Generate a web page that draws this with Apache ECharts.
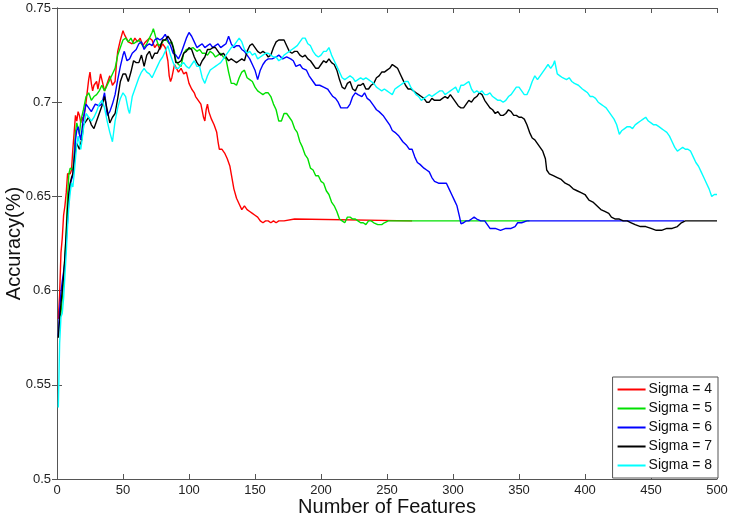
<!DOCTYPE html>
<html>
<head>
<meta charset="utf-8">
<script src="https://cdn.jsdelivr.net/npm/echarts@6/dist/echarts.min.js"></script>
<style>
html,body{margin:0;padding:0;background:#fff;}
#c{width:733px;height:519px;}
</style>
</head>
<body>
<div id="c"></div>
<script>
const seriesNames = ['Sigma = 4','Sigma = 5','Sigma = 6','Sigma = 7','Sigma = 8'];
const xTicks = [0,50,100,150,200,250,300,350,400,450,500];
const yTicks = [0.5,0.55,0.6,0.65,0.7,0.75];

const sigma4 = [[1,0.585],[2,0.598],[3,0.620],[4,0.628],[5,0.640],[6,0.645],[7,0.652],[8,0.662],[10,0.662],[11,0.664],[12,0.675],[13,0.684],[14,0.693],[15,0.690],[16,0.695],[17,0.693],[18,0.689],[19,0.692],[20,0.690],[22,0.700],[23,0.706],[24,0.712],[25,0.716],[26,0.710],[27,0.706],[28,0.709],[30,0.711],[31,0.707],[33,0.715],[34,0.712],[36,0.706],[38,0.710],[40,0.714],[42,0.709],[44,0.711],[45,0.720],[46,0.727],[48,0.733],[50,0.738],[51,0.736],[52,0.737],[54,0.732],[55,0.733],[57,0.731],[59,0.734],[61,0.732],[63,0.734],[65,0.730],[67,0.732],[70,0.734],[72,0.733],[74,0.729],[76,0.731],[78,0.728],[80,0.731],[82,0.729],[84,0.722],[85,0.714],[86,0.711],[87,0.713],[89,0.720],[90,0.719],[92,0.716],[94,0.718],[96,0.715],[98,0.716],[100,0.710],[102,0.707],[104,0.705],[105,0.703],[107,0.701],[109,0.699],[110,0.698],[111,0.692],[112,0.690],[113,0.696],[114,0.699],[115,0.695],[117,0.691],[119,0.688],[121,0.684],[122,0.679],[123,0.675],[125,0.675],[127,0.673],[129,0.670],[131,0.666],[132,0.662],[133,0.658],[134,0.654],[136,0.649],[138,0.646],[140,0.643],[142,0.645],[144,0.643],[146,0.642],[148,0.641],[150,0.640],[152,0.639],[154,0.637],[156,0.636],[158,0.637],[160,0.637],[162,0.636],[164,0.637],[166,0.636],[168,0.637],[172,0.637],[173,0.638],[180,0.638],[181,0.637],[269,0.637]];

const sigma5 = [[2,0.585],[3,0.588],[4,0.596],[5,0.606],[6,0.618],[7,0.632],[8,0.650],[9,0.662],[10,0.665],[11,0.666],[12,0.664],[13,0.672],[14,0.684],[15,0.689],[16,0.686],[17,0.683],[18,0.690],[20,0.696],[22,0.703],[24,0.705],[26,0.701],[28,0.703],[30,0.704],[32,0.706],[34,0.709],[36,0.706],[38,0.709],[40,0.712],[42,0.715],[44,0.718],[46,0.725],[48,0.729],[50,0.733],[52,0.734],[54,0.732],[56,0.734],[58,0.731],[60,0.732],[62,0.733],[64,0.731],[66,0.729],[68,0.731],[70,0.734],[72,0.737],[73,0.739],[75,0.734],[77,0.730],[79,0.731],[81,0.733],[83,0.733],[85,0.731],[87,0.732],[89,0.727],[90,0.722],[92,0.720],[94,0.719],[96,0.726],[98,0.728],[100,0.728],[103,0.729],[106,0.727],[108,0.728],[110,0.726],[112,0.726],[114,0.725],[116,0.727],[118,0.726],[120,0.724],[122,0.725],[124,0.726],[126,0.724],[128,0.723],[130,0.716],[132,0.710],[134,0.710],[136,0.709],[138,0.713],[140,0.716],[142,0.717],[144,0.713],[146,0.712],[148,0.711],[150,0.708],[152,0.706],[154,0.705],[156,0.704],[158,0.705],[160,0.705],[162,0.703],[164,0.699],[166,0.696],[168,0.690],[170,0.690],[172,0.694],[174,0.694],[176,0.692],[178,0.690],[180,0.686],[182,0.684],[184,0.679],[186,0.676],[188,0.672],[190,0.670],[192,0.665],[194,0.664],[196,0.661],[198,0.661],[200,0.658],[202,0.657],[204,0.653],[206,0.651],[208,0.647],[210,0.645],[212,0.642],[214,0.638],[216,0.637],[218,0.636],[220,0.639],[222,0.639],[224,0.638],[226,0.638],[228,0.637],[230,0.636],[232,0.636],[234,0.635],[236,0.637],[238,0.637],[240,0.636],[243,0.635],[246,0.635],[248,0.636],[251,0.637],[358,0.637]];

const sigma6 = [[1,0.576],[2,0.590],[3,0.599],[4,0.605],[5,0.610],[6,0.615],[7,0.626],[8,0.637],[9,0.648],[10,0.656],[11,0.659],[12,0.661],[13,0.670],[14,0.680],[15,0.685],[16,0.687],[17,0.683],[18,0.680],[19,0.686],[20,0.692],[22,0.699],[24,0.697],[26,0.695],[27,0.695],[29,0.699],[30,0.700],[32,0.698],[34,0.699],[36,0.705],[37,0.700],[38,0.693],[40,0.695],[42,0.699],[44,0.704],[46,0.712],[48,0.719],[50,0.725],[51,0.727],[53,0.722],[55,0.723],[57,0.726],[60,0.728],[62,0.731],[64,0.732],[66,0.728],[68,0.730],[70,0.731],[72,0.730],[74,0.733],[76,0.734],[78,0.733],[80,0.734],[82,0.736],[84,0.733],[86,0.730],[88,0.726],[90,0.725],[92,0.723],[94,0.726],[96,0.730],[98,0.734],[100,0.737],[102,0.735],[104,0.732],[106,0.729],[108,0.730],[110,0.731],[112,0.729],[114,0.730],[116,0.731],[118,0.729],[120,0.730],[122,0.731],[124,0.729],[126,0.730],[128,0.731],[130,0.735],[132,0.731],[134,0.729],[136,0.730],[138,0.730],[140,0.728],[142,0.727],[144,0.725],[146,0.723],[148,0.720],[150,0.717],[152,0.712],[154,0.717],[156,0.720],[158,0.722],[160,0.723],[163,0.723],[166,0.724],[168,0.725],[171,0.723],[174,0.724],[177,0.723],[179,0.722],[181,0.719],[184,0.720],[186,0.718],[189,0.717],[191,0.714],[194,0.711],[196,0.709],[199,0.709],[202,0.708],[205,0.707],[207,0.705],[209,0.703],[211,0.702],[213,0.700],[215,0.697],[218,0.697],[220,0.697],[222,0.699],[224,0.703],[226,0.705],[228,0.704],[231,0.703],[233,0.705],[235,0.702],[237,0.701],[240,0.698],[242,0.696],[244,0.695],[247,0.693],[250,0.690],[252,0.688],[254,0.685],[256,0.684],[259,0.682],[262,0.679],[265,0.677],[267,0.675],[269,0.675],[271,0.671],[273,0.668],[275,0.667],[278,0.665],[280,0.664],[282,0.663],[284,0.660],[286,0.658],[289,0.657],[292,0.657],[295,0.657],[297,0.654],[299,0.651],[301,0.648],[303,0.645],[305,0.639],[306,0.6355],[308,0.636],[310,0.637],[312,0.637],[314,0.638],[316,0.639],[318,0.638],[321,0.637],[324,0.637],[326,0.635],[328,0.633],[332,0.633],[336,0.632],[340,0.633],[344,0.633],[347,0.634],[349,0.636],[352,0.636],[356,0.637],[475,0.637]];

const sigma7 = [[1,0.575],[2,0.585],[3,0.593],[4,0.600],[5,0.608],[6,0.618],[7,0.630],[8,0.643],[9,0.652],[10,0.657],[11,0.660],[12,0.662],[13,0.668],[14,0.674],[15,0.678],[16,0.677],[17,0.675],[18,0.676],[19,0.681],[20,0.688],[22,0.690],[24,0.692],[26,0.688],[28,0.686],[30,0.690],[32,0.694],[34,0.698],[36,0.703],[38,0.696],[40,0.689],[42,0.692],[44,0.694],[46,0.702],[48,0.711],[50,0.715],[52,0.715],[54,0.711],[56,0.716],[58,0.722],[60,0.721],[62,0.721],[64,0.725],[66,0.719],[68,0.725],[70,0.727],[72,0.723],[74,0.726],[76,0.726],[78,0.729],[80,0.733],[82,0.733],[84,0.735],[86,0.733],[88,0.729],[90,0.721],[92,0.721],[94,0.722],[96,0.726],[98,0.727],[100,0.729],[102,0.728],[104,0.724],[106,0.721],[108,0.719],[110,0.722],[112,0.724],[114,0.728],[116,0.728],[118,0.729],[120,0.729],[122,0.727],[124,0.725],[126,0.726],[128,0.724],[130,0.722],[132,0.723],[134,0.722],[136,0.721],[138,0.722],[140,0.723],[142,0.722],[144,0.727],[146,0.730],[148,0.731],[150,0.729],[152,0.727],[154,0.726],[156,0.727],[158,0.726],[160,0.724],[162,0.725],[164,0.729],[166,0.732],[168,0.733],[170,0.733],[172,0.733],[174,0.730],[176,0.727],[178,0.726],[180,0.727],[182,0.727],[184,0.725],[186,0.724],[188,0.725],[190,0.723],[192,0.722],[194,0.720],[196,0.718],[198,0.718],[200,0.720],[202,0.722],[204,0.721],[206,0.723],[208,0.721],[210,0.720],[212,0.717],[214,0.712],[216,0.708],[218,0.707],[220,0.710],[222,0.711],[224,0.707],[226,0.706],[228,0.709],[230,0.709],[232,0.710],[234,0.707],[236,0.707],[238,0.709],[240,0.710],[242,0.713],[244,0.714],[246,0.716],[248,0.716],[250,0.717],[252,0.718],[254,0.720],[256,0.719],[258,0.718],[260,0.715],[262,0.712],[264,0.709],[266,0.707],[268,0.707],[270,0.706],[272,0.705],[274,0.704],[276,0.703],[278,0.702],[280,0.700],[282,0.700],[284,0.702],[286,0.701],[288,0.701],[290,0.701],[292,0.702],[294,0.703],[296,0.702],[298,0.704],[300,0.702],[302,0.700],[304,0.698],[306,0.697],[308,0.697],[310,0.699],[312,0.701],[314,0.700],[316,0.702],[318,0.703],[320,0.705],[322,0.704],[324,0.701],[326,0.699],[328,0.697],[330,0.696],[332,0.694],[334,0.695],[336,0.693],[338,0.693],[340,0.694],[342,0.696],[344,0.695],[346,0.693],[348,0.693],[350,0.692],[352,0.692],[354,0.691],[356,0.688],[358,0.684],[360,0.681],[362,0.680],[364,0.678],[366,0.676],[368,0.674],[370,0.670],[371,0.664],[373,0.662],[376,0.661],[379,0.660],[382,0.659],[385,0.657],[388,0.656],[391,0.654],[394,0.653],[397,0.652],[400,0.651],[403,0.648],[406,0.647],[409,0.645],[412,0.643],[415,0.642],[418,0.641],[420,0.639],[423,0.638],[426,0.638],[429,0.637],[432,0.637],[435,0.636],[438,0.635],[442,0.634],[446,0.634],[450,0.633],[454,0.632],[458,0.632],[462,0.633],[466,0.633],[470,0.634],[473,0.636],[476,0.637],[500,0.637]];

const sigma8 = [[1,0.538],[2,0.572],[3,0.586],[4,0.588],[5,0.596],[6,0.608],[7,0.620],[8,0.634],[9,0.645],[10,0.652],[11,0.657],[12,0.655],[13,0.662],[14,0.670],[15,0.678],[16,0.682],[17,0.678],[18,0.675],[19,0.680],[20,0.686],[22,0.694],[24,0.692],[26,0.690],[28,0.692],[30,0.695],[32,0.699],[34,0.701],[36,0.697],[38,0.690],[40,0.684],[42,0.679],[44,0.690],[46,0.697],[48,0.702],[50,0.705],[52,0.703],[54,0.696],[55,0.694],[57,0.703],[60,0.709],[62,0.713],[64,0.716],[66,0.718],[68,0.716],[70,0.715],[72,0.713],[74,0.716],[76,0.719],[78,0.722],[80,0.724],[82,0.727],[84,0.730],[86,0.725],[88,0.721],[90,0.718],[92,0.718],[94,0.720],[96,0.721],[98,0.719],[100,0.718],[102,0.720],[104,0.722],[106,0.719],[108,0.719],[110,0.713],[112,0.710],[114,0.714],[116,0.717],[118,0.718],[120,0.719],[122,0.720],[124,0.721],[126,0.723],[128,0.725],[130,0.727],[132,0.729],[134,0.730],[136,0.732],[138,0.734],[140,0.732],[142,0.728],[144,0.726],[146,0.727],[148,0.725],[150,0.726],[152,0.723],[154,0.724],[156,0.725],[158,0.726],[160,0.726],[162,0.725],[164,0.724],[166,0.724],[168,0.722],[170,0.723],[172,0.725],[174,0.726],[176,0.727],[178,0.728],[180,0.729],[182,0.730],[184,0.732],[186,0.734],[188,0.734],[190,0.731],[192,0.730],[194,0.727],[196,0.725],[198,0.724],[200,0.725],[202,0.727],[204,0.727],[206,0.729],[208,0.725],[210,0.722],[212,0.719],[214,0.716],[216,0.713],[218,0.712],[220,0.713],[222,0.714],[224,0.713],[226,0.711],[228,0.712],[230,0.713],[232,0.712],[234,0.713],[236,0.712],[238,0.711],[240,0.710],[242,0.708],[244,0.707],[246,0.706],[248,0.707],[250,0.706],[252,0.705],[254,0.704],[256,0.707],[258,0.708],[260,0.709],[262,0.710],[264,0.711],[266,0.711],[268,0.708],[270,0.706],[272,0.704],[274,0.703],[276,0.701],[278,0.702],[280,0.703],[282,0.704],[284,0.703],[286,0.704],[288,0.705],[290,0.706],[292,0.706],[294,0.704],[296,0.705],[298,0.706],[300,0.707],[302,0.708],[304,0.705],[306,0.709],[308,0.709],[310,0.710],[312,0.711],[314,0.707],[316,0.705],[318,0.706],[320,0.705],[322,0.706],[324,0.704],[326,0.704],[328,0.705],[330,0.703],[332,0.702],[334,0.701],[336,0.701],[338,0.700],[340,0.701],[342,0.703],[344,0.704],[346,0.706],[348,0.708],[350,0.708],[352,0.706],[354,0.704],[356,0.704],[358,0.707],[360,0.711],[362,0.714],[364,0.712],[366,0.714],[368,0.716],[370,0.718],[372,0.720],[374,0.718],[376,0.720],[377,0.722],[379,0.715],[381,0.714],[383,0.713],[386,0.712],[388,0.713],[390,0.711],[392,0.710],[395,0.709],[398,0.707],[400,0.706],[402,0.705],[404,0.703],[406,0.703],[408,0.702],[410,0.700],[412,0.699],[414,0.698],[416,0.697],[418,0.695],[420,0.693],[422,0.691],[424,0.688],[426,0.683],[428,0.685],[430,0.686],[432,0.687],[434,0.687],[436,0.686],[438,0.688],[440,0.689],[442,0.690],[444,0.691],[446,0.692],[448,0.690],[450,0.689],[452,0.688],[454,0.688],[456,0.687],[458,0.686],[460,0.685],[462,0.684],[464,0.682],[466,0.679],[468,0.676],[470,0.674],[472,0.675],[474,0.676],[476,0.675],[478,0.675],[480,0.674],[482,0.671],[484,0.668],[486,0.666],[488,0.663],[490,0.660],[492,0.657],[494,0.654],[496,0.650],[498,0.651],[500,0.651]];

const allData = [sigma4, sigma5, sigma6, sigma7, sigma8];
const colors = ['#ff0000','#00e000','#0000ff','#000000','#00ffff'];

const font = 'Liberation Sans, Arial, sans-serif';
const axisColor = '#555';

const chart = echarts.init(document.getElementById('c'), null, {renderer: 'canvas'});
const xBase = {
  type: 'value', min: xTicks[0], max: xTicks[xTicks.length - 1], interval: xTicks[1] - xTicks[0],
  axisLine: {lineStyle: {color: axisColor, width: 1}},
  axisTick: {inside: true, length: 5, lineStyle: {color: axisColor}},
  splitLine: {show: false}
};
const yBase = {
  type: 'value', min: yTicks[0], max: yTicks[yTicks.length - 1], interval: 0.05,
  axisLine: {show: true, lineStyle: {color: axisColor, width: 1}},
  axisTick: {show: true, inside: true, length: 5, lineStyle: {color: axisColor}},
  splitLine: {show: false}
};
chart.setOption({
  animation: false,
  backgroundColor: '#fff',
  grid: {left: 57, right: 16, top: 8, bottom: 40, containLabel: false, outerBoundsMode: 'none'},
  xAxis: [
    Object.assign({}, xBase, {
      position: 'bottom',
      name: 'Number of Features', nameLocation: 'middle', nameGap: 18, nameMoveOverlap: false,
      nameTextStyle: {fontFamily: font, fontSize: 20, color: '#111'},
      axisLabel: {fontFamily: font, fontSize: 13, color: '#222', margin: 5}
    }),
    Object.assign({}, xBase, {position: 'top', axisLabel: {show: false}})
  ],
  yAxis: [
    Object.assign({}, yBase, {
      position: 'left',
      name: 'Accuracy(%)', nameLocation: 'middle', nameGap: 33, nameMoveOverlap: false,
      nameTextStyle: {fontFamily: font, fontSize: 20, color: '#111'},
      axisLabel: {fontFamily: font, fontSize: 13, color: '#222', margin: 6}
    }),
    Object.assign({}, yBase, {position: 'right', axisLabel: {show: false}})
  ],
  legend: {
    orient: 'vertical', right: 15, bottom: 41,
    backgroundColor: '#fff', borderColor: '#555', borderWidth: 1,
    padding: [4, 6, 4, 5], itemWidth: 28, itemHeight: 2, itemGap: 2,
    icon: 'rect',
    textStyle: {fontFamily: font, fontSize: 14, lineHeight: 17, color: '#111', padding: [0, 0, 0, -2]},
    data: seriesNames
  },
  series: allData.map((d, i) => ({
    name: seriesNames[i], type: 'line', data: d, symbol: 'none',
    xAxisIndex: 0, yAxisIndex: 0,
    lineStyle: {color: colors[i], width: 1.4},
    itemStyle: {color: colors[i]}
  }))
});
</script>
</body>
</html>
